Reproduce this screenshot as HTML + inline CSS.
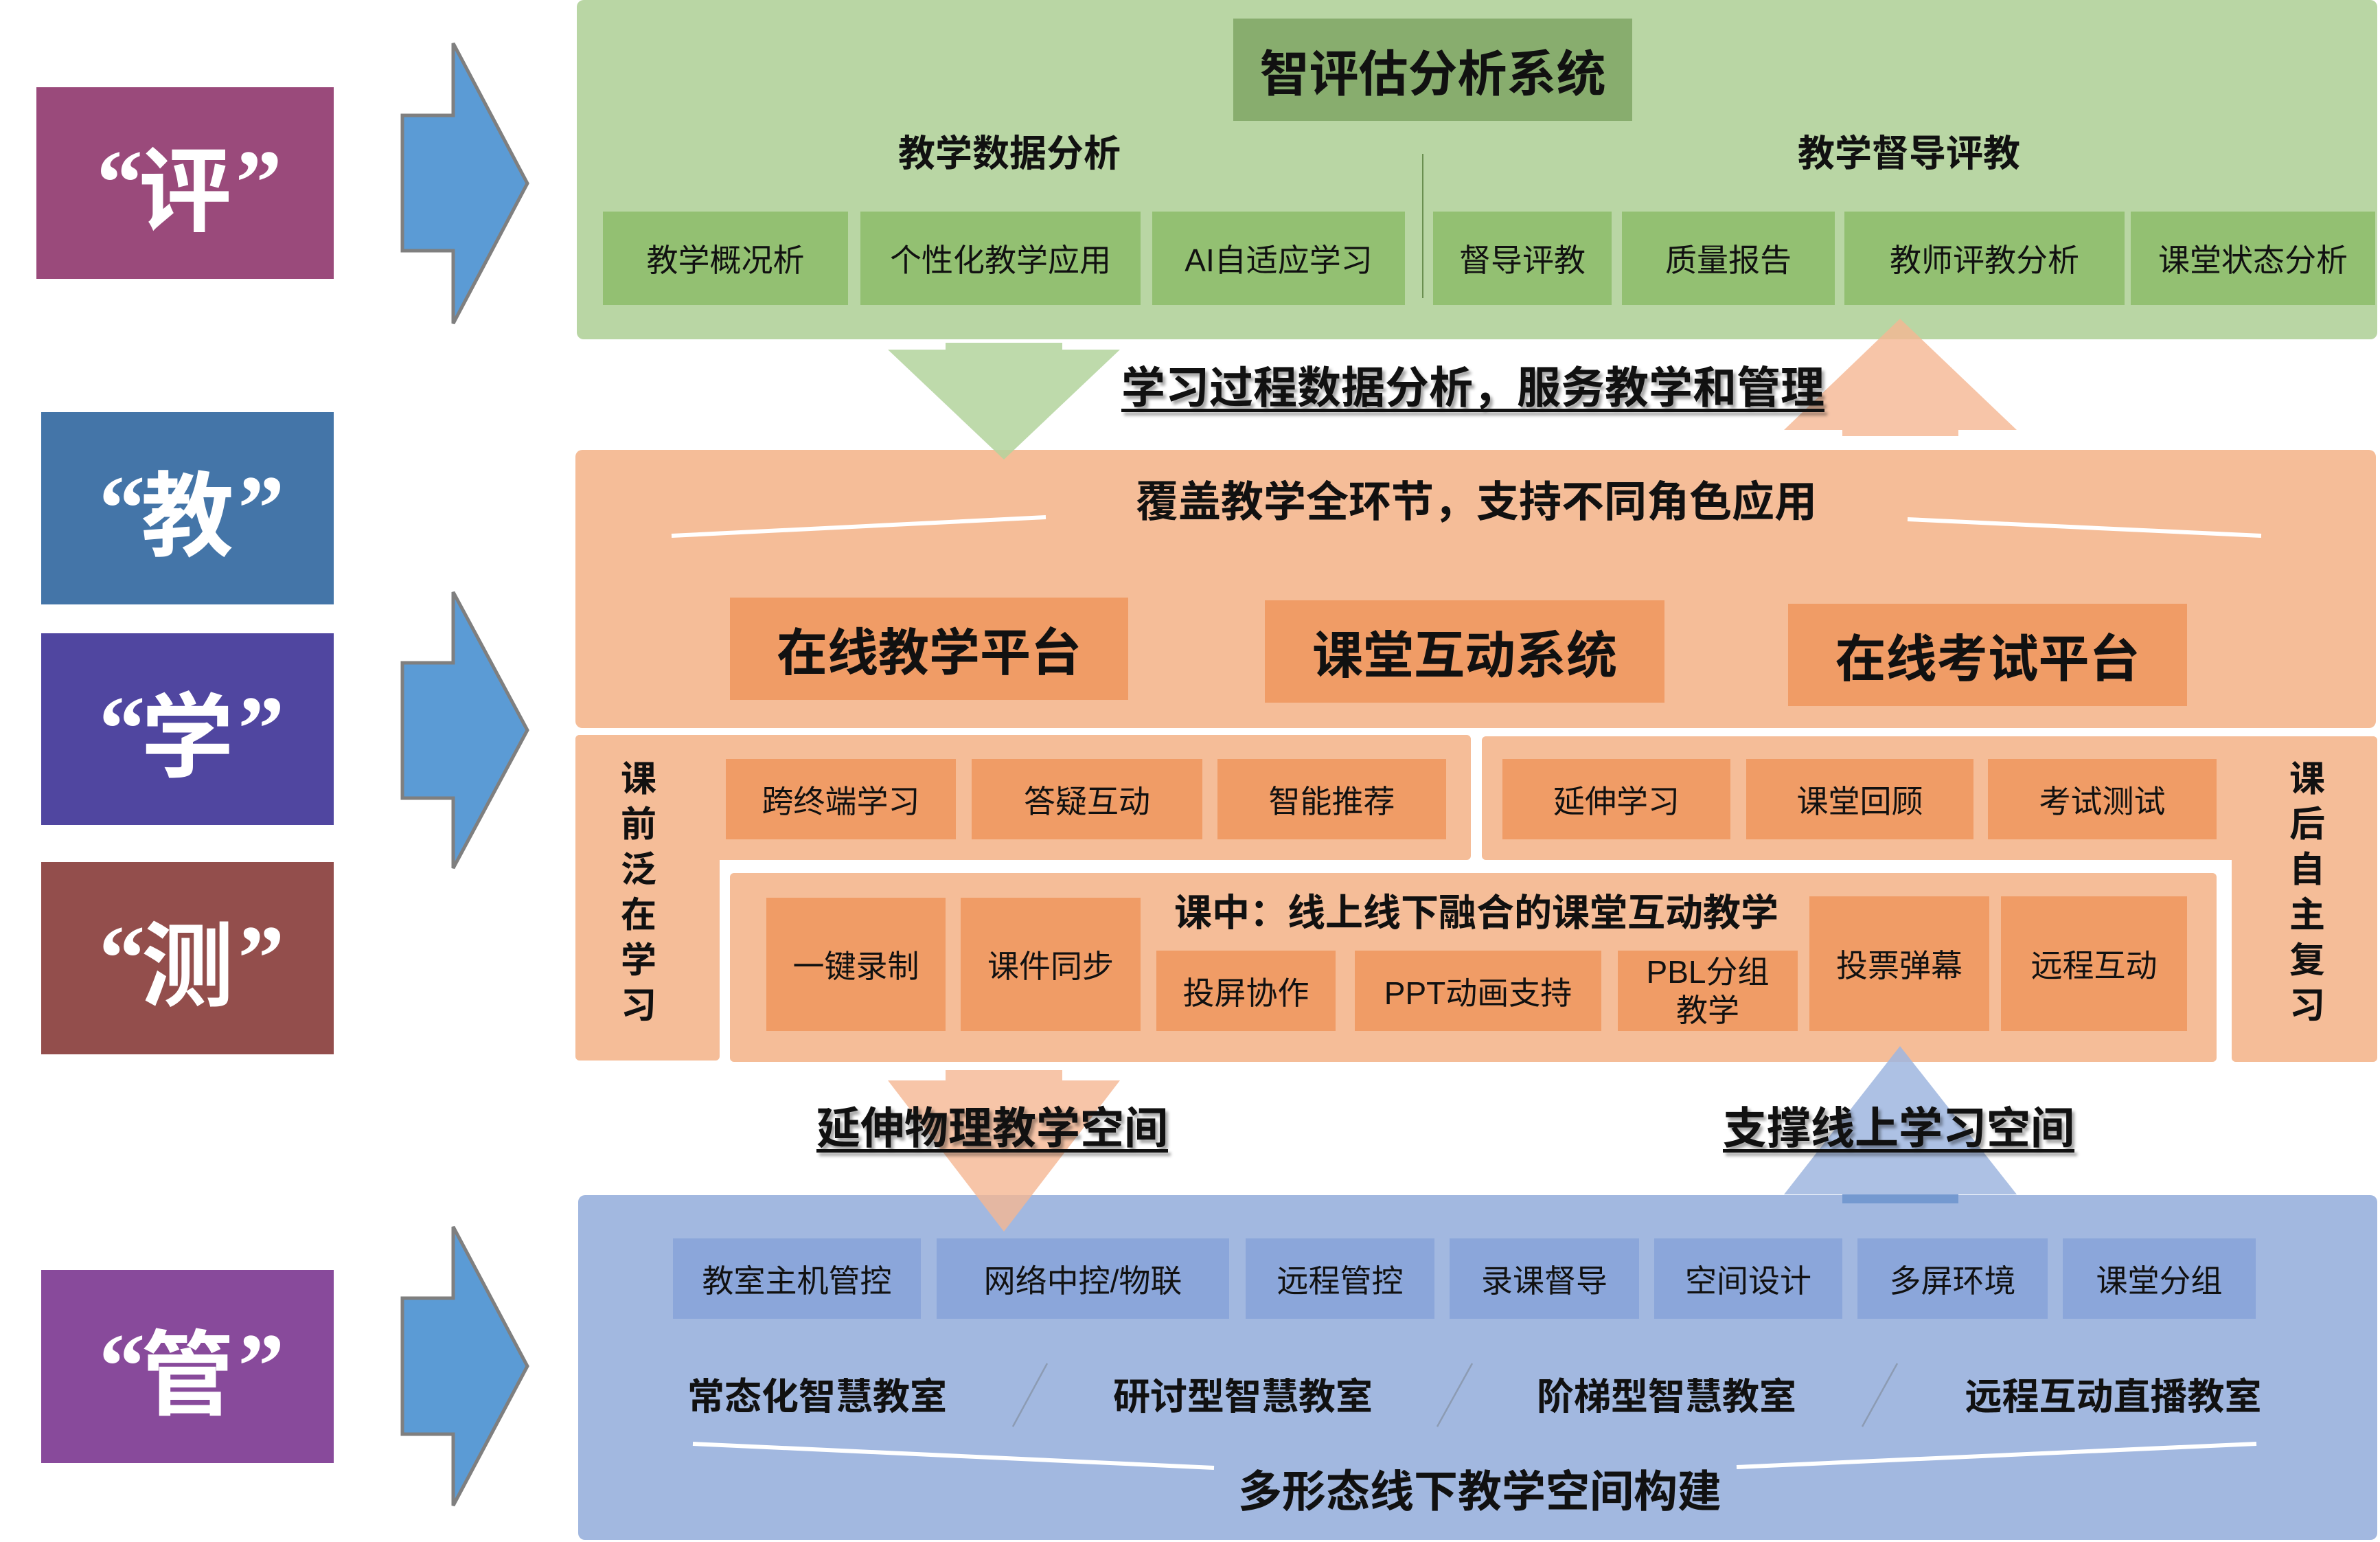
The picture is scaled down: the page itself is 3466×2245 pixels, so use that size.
<!DOCTYPE html>
<html><head><meta charset="utf-8"><style>
body{margin:0;width:3466px;height:2245px;position:relative;background:#fff;overflow:hidden;font-family:"Liberation Sans","Noto Sans CJK SC",sans-serif;}
.b{position:absolute;display:flex;align-items:center;justify-content:center;text-align:center;box-sizing:border-box;white-space:nowrap;color:#111;}
.lab{color:#fff;font-size:135px;font-family:"Liberation Serif","Noto Sans CJK SC",serif;font-weight:bold;letter-spacing:-12px;}
.lab span{font-family:"Noto Sans CJK SC",sans-serif;font-weight:700;letter-spacing:0;margin:0 6px;}
.g{background:#93c072;font-size:46px;}
.o{background:#f09c66;font-size:46px;}
.bl{background:#8ba6da;font-size:46px;}
.bold{font-weight:bold;}
.u{font-weight:bold;text-decoration:underline;text-decoration-thickness:5px;text-underline-offset:8px;text-shadow:4px 5px 4px rgba(0,0,0,.35);font-size:62px;}
.v{flex-direction:column;font-weight:bold;font-size:52px;line-height:66px;}
</style></head><body>

<div class="b lab" style="left:53px;top:127px;width:433px;height:279px;background:#9a4a7b">“<span>评</span>”</div>
<div class="b lab" style="left:60px;top:600px;width:426px;height:280px;background:#4475a8">“<span>教</span>”</div>
<div class="b lab" style="left:60px;top:922px;width:426px;height:279px;background:#5046a0">“<span>学</span>”</div>
<div class="b lab" style="left:60px;top:1255px;width:426px;height:280px;background:#934e4c">“<span>测</span>”</div>
<div class="b lab" style="left:60px;top:1849px;width:426px;height:281px;background:#884a9b">“<span>管</span>”</div>

<svg style="position:absolute;left:0;top:0" width="3466" height="2245">
<g fill="#5b9bd5" stroke="#7f7f7f" stroke-width="5">
<polygon points="660,63 768,267 660,471 660,365 586,365 586,168 660,168"/>
<polygon points="660,862 768,1063 660,1264 660,1162 586,1162 586,965 660,965"/>
<polygon points="660,1786 768,1989 660,2192 660,2088 586,2088 586,1890 660,1890"/>
</g></svg>

<div class="b" style="left:840px;top:0;width:2622px;height:494px;background:#b9d6a4;border-radius:10px"></div>
<div class="b bold" style="left:1796px;top:27px;width:581px;height:149px;background:#88ad6e;font-size:72px">智评估分析系统</div>
<div class="b bold" style="left:1240px;top:188px;width:460px;height:60px;font-size:54px">教学数据分析</div>
<div class="b bold" style="left:2550px;top:188px;width:460px;height:60px;font-size:54px">教学督导评教</div>
<div style="position:absolute;left:2071px;top:224px;width:2px;height:210px;background:#6a8f50"></div>
<div class="b g" style="left:878px;top:308px;width:357px;height:136px">教学概况析</div>
<div class="b g" style="left:1253px;top:308px;width:408px;height:136px">个性化教学应用</div>
<div class="b g" style="left:1678px;top:308px;width:368px;height:136px">AI自适应学习</div>
<div class="b g" style="left:2087px;top:308px;width:260px;height:136px">督导评教</div>
<div class="b g" style="left:2362px;top:308px;width:310px;height:136px">质量报告</div>
<div class="b g" style="left:2686px;top:308px;width:408px;height:136px">教师评教分析</div>
<div class="b g" style="left:3103px;top:308px;width:356px;height:136px">课堂状态分析</div>

<div class="b" style="left:838px;top:655px;width:2622px;height:405px;background:#f5bd98;border-radius:10px"></div>
<div class="b bold" style="left:1600px;top:693px;width:1100px;height:64px;font-size:62px">覆盖教学全环节，支持不同角色应用</div>
<svg style="position:absolute;left:0;top:0" width="3466" height="2245">
<line x1="978" y1="780" x2="1523" y2="753" stroke="#fff" stroke-width="6"/>
<line x1="2778" y1="756" x2="3293" y2="780" stroke="#fff" stroke-width="6"/>
</svg>
<div class="b o bold" style="left:1063px;top:870px;width:580px;height:149px;font-size:74px">在线教学平台</div>
<div class="b o bold" style="left:1842px;top:874px;width:582px;height:149px;font-size:74px">课堂互动系统</div>
<div class="b o bold" style="left:2604px;top:879px;width:581px;height:149px;font-size:74px">在线考试平台</div>

<div style="position:absolute;left:838px;top:1070px;width:1304px;height:182px;background:#f5bd98;border-radius:6px"></div>
<div style="position:absolute;left:838px;top:1070px;width:210px;height:474px;background:#f5bd98;border-radius:6px"></div>
<div style="position:absolute;left:2158px;top:1072px;width:1304px;height:180px;background:#f5bd98;border-radius:6px"></div>
<div style="position:absolute;left:3250px;top:1072px;width:212px;height:474px;background:#f5bd98;border-radius:6px"></div>
<div style="position:absolute;left:1063px;top:1271px;width:2165px;height:275px;background:#f5bd98;border-radius:6px"></div>
<div class="b v" style="left:880px;top:1100px;width:100px;height:400px">课<br>前<br>泛<br>在<br>学<br>习</div>
<div class="b v" style="left:3310px;top:1100px;width:100px;height:400px">课<br>后<br>自<br>主<br>复<br>习</div>
<div class="b o" style="left:1057px;top:1105px;width:335px;height:117px">跨终端学习</div>
<div class="b o" style="left:1415px;top:1105px;width:336px;height:117px">答疑互动</div>
<div class="b o" style="left:1773px;top:1105px;width:333px;height:117px">智能推荐</div>
<div class="b o" style="left:2188px;top:1105px;width:332px;height:117px">延伸学习</div>
<div class="b o" style="left:2543px;top:1105px;width:331px;height:117px">课堂回顾</div>
<div class="b o" style="left:2895px;top:1105px;width:333px;height:117px">考试测试</div>
<div class="b bold" style="left:1690px;top:1294px;width:920px;height:60px;font-size:55px">课中：线上线下融合的课堂互动教学</div>
<div class="b o" style="left:1116px;top:1307px;width:261px;height:194px">一键录制</div>
<div class="b o" style="left:1399px;top:1307px;width:262px;height:194px">课件同步</div>
<div class="b o" style="left:1684px;top:1384px;width:261px;height:117px">投屏协作</div>
<div class="b o" style="left:1973px;top:1384px;width:359px;height:117px">PPT动画支持</div>
<div class="b o" style="left:2356px;top:1384px;width:262px;height:117px;white-space:normal;line-height:56px">PBL分组<br>教学</div>
<div class="b o" style="left:2635px;top:1305px;width:262px;height:196px">投票弹幕</div>
<div class="b o" style="left:2914px;top:1305px;width:271px;height:196px">远程互动</div>

<div class="b" style="left:842px;top:1740px;width:2620px;height:502px;background:#a2b8e0;border-radius:10px"></div>
<div class="b bl" style="left:980px;top:1803px;width:361px;height:117px">教室主机管控</div>
<div class="b bl" style="left:1364px;top:1803px;width:426px;height:117px">网络中控/物联</div>
<div class="b bl" style="left:1814px;top:1803px;width:275px;height:117px">远程管控</div>
<div class="b bl" style="left:2111px;top:1803px;width:276px;height:117px">录课督导</div>
<div class="b bl" style="left:2409px;top:1803px;width:274px;height:117px">空间设计</div>
<div class="b bl" style="left:2705px;top:1803px;width:277px;height:117px">多屏环境</div>
<div class="b bl" style="left:3004px;top:1803px;width:281px;height:117px">课堂分组</div>
<div class="b bold" style="left:980px;top:1998px;width:420px;height:60px;font-size:54px">常态化智慧教室</div>
<div class="b bold" style="left:1600px;top:1998px;width:420px;height:60px;font-size:54px">研讨型智慧教室</div>
<div class="b bold" style="left:2217px;top:1998px;width:420px;height:60px;font-size:54px">阶梯型智慧教室</div>
<div class="b bold" style="left:2840px;top:1998px;width:475px;height:60px;font-size:54px">远程互动直播教室</div>
<svg style="position:absolute;left:0;top:0" width="3466" height="2245">
<g stroke="#8c9bb3" stroke-width="2.5">
<line x1="1525" y1="1985" x2="1475" y2="2077"/>
<line x1="2144" y1="1985" x2="2093" y2="2077"/>
<line x1="2763" y1="1985" x2="2712" y2="2077"/>
</g>
<line x1="1009" y1="2102" x2="1768" y2="2137" stroke="#fff" stroke-width="6"/>
<line x1="2529" y1="2136" x2="3286" y2="2102" stroke="#fff" stroke-width="6"/>
</svg>
<div class="b bold" style="left:1780px;top:2134px;width:750px;height:66px;font-size:64px">多形态线下教学空间构建</div>

<svg style="position:absolute;left:0;top:0" width="3466" height="2245">
<polygon opacity="0.85" fill="#b3d39c" points="1377,499 1547,499 1547,509 1631,509 1462,669 1293,509 1377,509"/>
<polygon opacity="0.8" fill="#f5b792" points="2767,464 2937,626 2852,626 2852,635 2683,635 2683,626 2598,626"/>
<polygon opacity="0.8" fill="#f5b792" points="1377,1558 1547,1558 1547,1573 1631,1573 1462,1793 1293,1573 1377,1573"/>
<polygon opacity="0.85" fill="#9fb6df" points="2767,1523 2937,1739 2598,1739"/>
<rect x="2683" y="1739" width="169" height="13" fill="#7499d0"/>
</svg>
<div class="b u" style="left:1600px;top:520px;width:1090px;height:80px;font-size:64px">学习过程数据分析，服务教学和管理</div>
<div class="b u" style="left:1160px;top:1598px;width:570px;height:80px;font-size:64px">延伸物理教学空间</div>
<div class="b u" style="left:2480px;top:1598px;width:570px;height:80px;font-size:64px">支撑线上学习空间</div>
</body></html>
